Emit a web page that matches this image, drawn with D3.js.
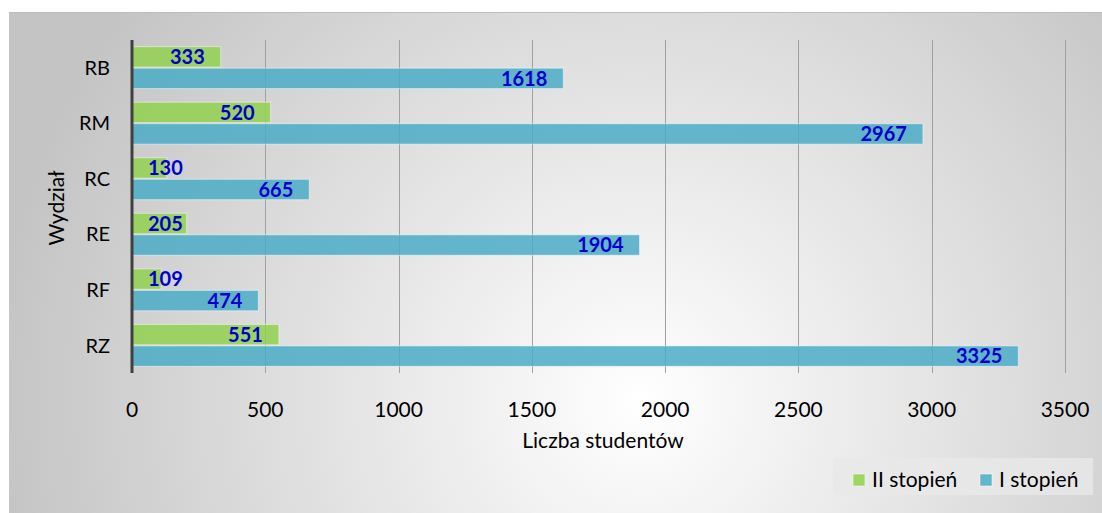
<!DOCTYPE html>
<html><head><meta charset="utf-8">
<script src="https://cdn.jsdelivr.net/npm/d3@7"></script>
<style>html,body{margin:0;padding:0;background:#fff;}svg{display:block;font-family:Lato,"Open Sans",sans-serif;}</style>
</head><body>
<svg id="c" width="1102" height="513"></svg>
<script>
const categories = ["RB","RM","RC","RE","RF","RZ"];
const seriesII = [333,520,130,205,109,551];
const seriesI = [1618,2967,665,1904,474,3325];
const seriesNames = ["II stopień","I stopień"];
const xTicks = [0,500,1000,1500,2000,2500,3000,3500];

(function(){
const svg = d3.select("#c");
const defs = svg.append("defs");
const rg = defs.append("radialGradient").attr("id","bg").attr("gradientUnits","userSpaceOnUse")
  .attr("cx",640).attr("cy",400).attr("r",650);
rg.append("stop").attr("offset","0%").attr("stop-color","#ffffff");
rg.append("stop").attr("offset","100%").attr("stop-color","#c4c4c4");

svg.append("rect").attr("x",9).attr("y",12).attr("width",1093).attr("height",501).attr("fill","url(#bg)");
svg.append("line").attr("x1",9).attr("x2",1102).attr("y1",12.5).attr("y2",12.5).attr("stroke","#bcbcbc");

const pL=132, pR=1065, pT=40, pB=373;
const x = d3.scaleLinear().domain([0,3500]).range([pL,pR]);
const y = d3.scaleBand().domain(categories).range([pT,pB]).paddingInner(0.245).paddingOuter(0.12);
const sub = d3.scaleBand().domain([0,1]).range([0,y.bandwidth()]).paddingInner(0.05);

// gridlines
svg.append("g").selectAll("line").data(xTicks.slice(1)).join("line")
  .attr("x1",d=>Math.round(x(d))+0.5).attr("x2",d=>Math.round(x(d))+0.5)
  .attr("y1",pT).attr("y2",pB).attr("stroke","#a0a0a0").attr("stroke-width",1);

const colors=["#92D050","#4BACC6"];
const data=[];
categories.forEach((c,i)=>{
  data.push({c,s:0,v:seriesII[i]});
  data.push({c,s:1,v:seriesI[i]});
});
svg.append("g").selectAll("rect").data(data).join("rect")
  .attr("x",x(0)).attr("y",d=>y(d.c)+sub(d.s))
  .attr("width",d=>x(d.v)-x(0)).attr("height",sub.bandwidth())
  .attr("fill",d=>colors[d.s]).attr("fill-opacity",0.85)
  .attr("stroke","#ffffff").attr("stroke-opacity",0.5).attr("stroke-width",1);

// axis line
svg.append("line").attr("x1",pL).attr("x2",pL).attr("y1",pT).attr("y2",pB)
  .attr("stroke","#404040").attr("stroke-width",3);

// value labels
const lbl = svg.append("g").selectAll("text").data(data).join("text")
  .attr("y",d=>y(d.c)+sub(d.s)+sub.bandwidth()/2)
  .attr("dy","0.36em")
  .attr("font-weight","bold").attr("font-size",20).attr("fill","#0000CC")
  .text(d=>d.v);
lbl.each(function(d){
  const w=this.getComputedTextLength();
  const start=Math.max(x(d.v)-16-w, x(0)+16);
  d3.select(this).attr("x",start);
});

// y axis labels
svg.append("g").selectAll("text").data(categories).join("text")
  .attr("x",110).attr("y",d=>y(d)+y.bandwidth()/2).attr("dy","0.36em")
  .attr("text-anchor","end").attr("font-size",20).attr("fill","#000").text(d=>d);

// x tick labels
svg.append("g").selectAll("text").data(xTicks).join("text")
  .attr("x",d=>x(d)).attr("y",409).attr("dy","0.36em")
  .attr("text-anchor","middle").attr("font-size",21).attr("fill","#000").text(d=>d);

svg.append("text").attr("x",603).attr("y",440).attr("dy","0.36em").attr("text-anchor","middle")
  .attr("font-size",21).attr("fill","#000").text("Liczba studentów");
svg.append("text").attr("transform","translate(56,208) rotate(-90)").attr("dy","0.36em").attr("text-anchor","middle")
  .attr("font-size",21).attr("fill","#000").text("Wydział");

// legend
const lg = svg.append("g");
lg.append("rect").attr("x",833).attr("y",458).attr("width",260).attr("height",37).attr("fill","#e8e8e8").attr("fill-opacity",0.8);
const lx=[853,980];
seriesNames.forEach((n,i)=>{
  lg.append("rect").attr("x",lx[i]).attr("y",474).attr("width",12).attr("height",12)
    .attr("fill",colors[i]).attr("fill-opacity",0.85).attr("stroke","#fff").attr("stroke-opacity",0.5);
  lg.append("text").attr("x",lx[i]+19).attr("y",479).attr("dy","0.36em").attr("font-size",21).attr("fill","#000").text(n);
});
})();
</script>
</body></html>
